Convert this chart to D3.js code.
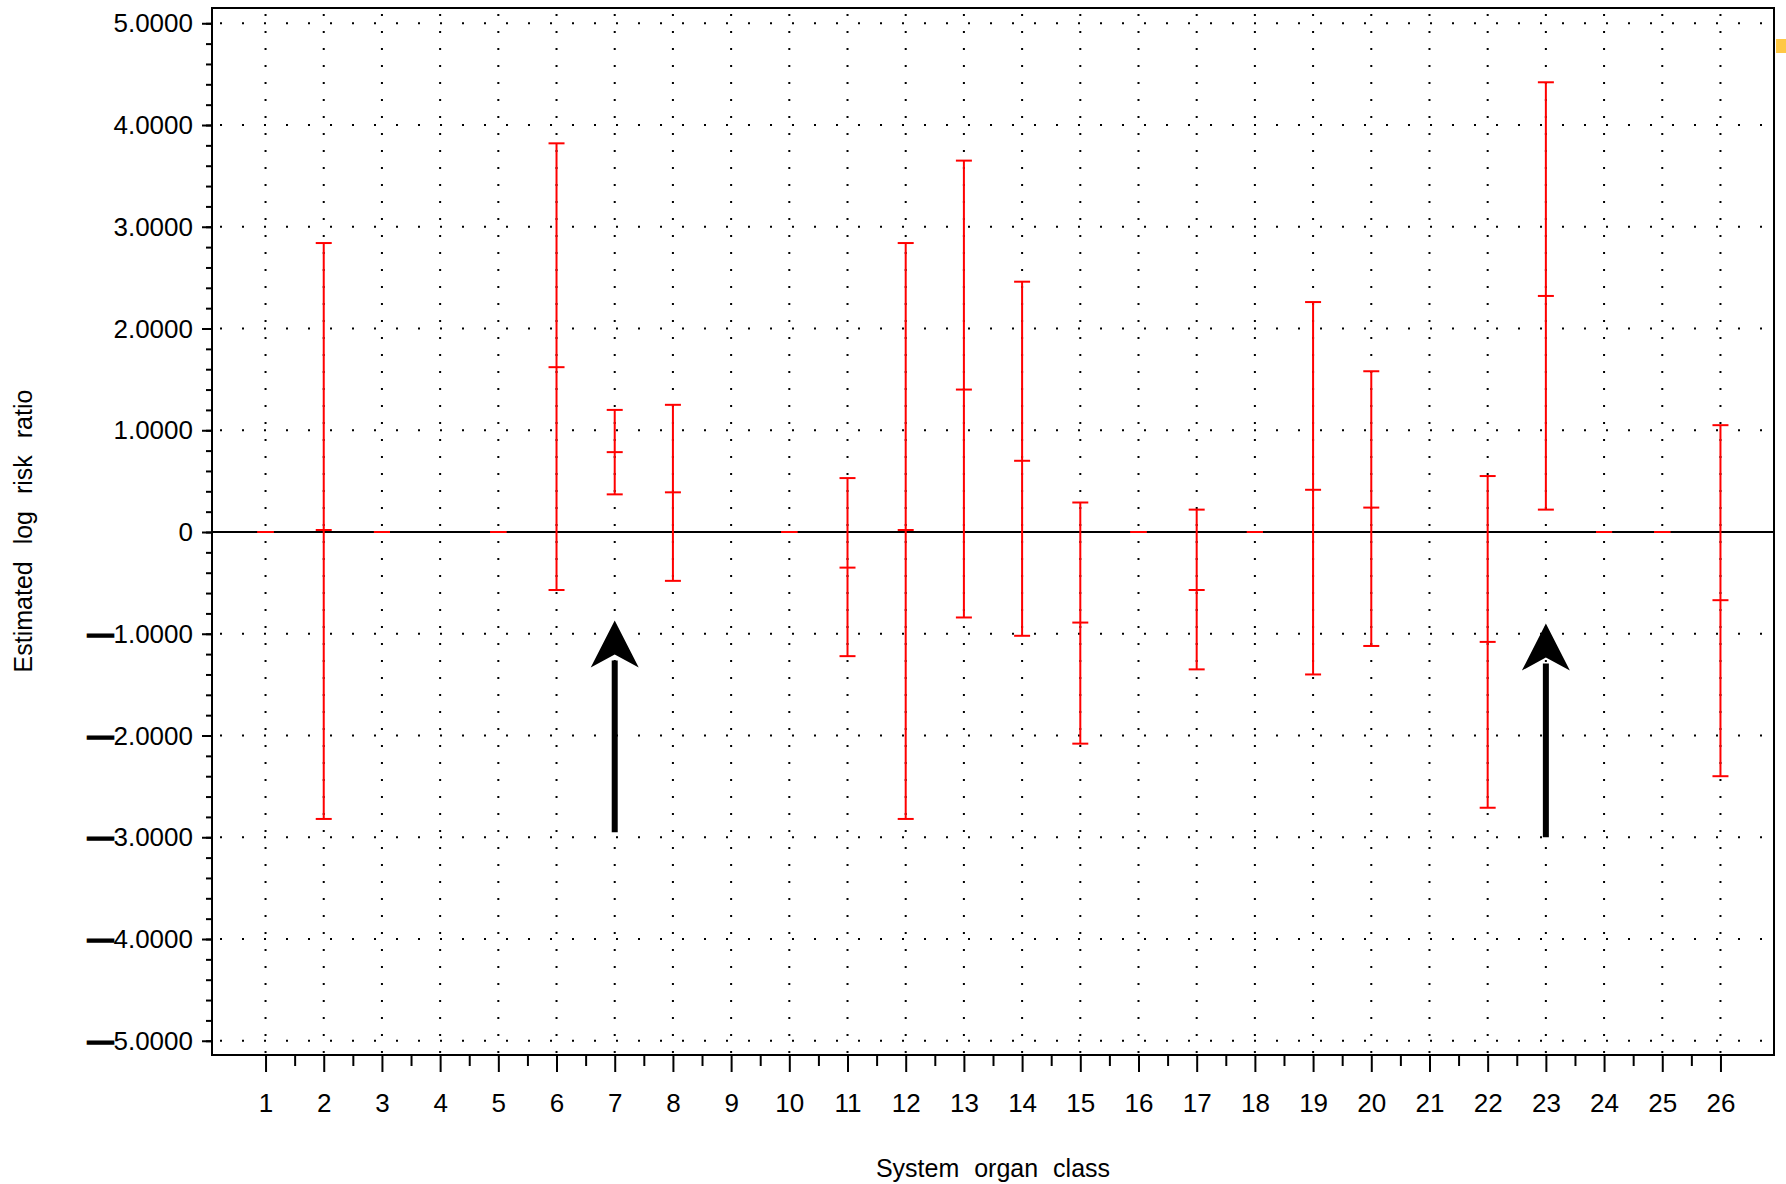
<!DOCTYPE html>
<html>
<head>
<meta charset="utf-8">
<script src="https://d3js.org/d3.v7.min.js"></script>
<style>
  body { margin: 0; background: #fff; }
  svg { display: block; }
  text { font-family: "Liberation Sans", Arial, sans-serif; fill: #000; }
</style>
</head>
<body>
<div id="chart"></div>
<script>
// system organ classes 1..26
const categories = d3.range(1, 27);
// estimated log risk ratio with lower / upper limits (null = no estimate)
const estimates = [0, 0.02, 0, null, 0, 1.62, 0.785, 0.39, null, 0, -0.35, 0.02, 1.40, 0.70, -0.89, 0, -0.57, 0, 0.415, 0.24, null, -1.08, 2.32, 0, 0, -0.67];
const lowerLimits = [0, -2.82, 0, null, 0, -0.57, 0.37, -0.48, null, 0, -1.22, -2.82, -0.84, -1.02, -2.08, 0, -1.35, 0, -1.40, -1.12, null, -2.71, 0.22, 0, 0, -2.40];
const upperLimits = [0, 2.84, 0, null, 0, 3.82, 1.20, 1.25, null, 0, 0.53, 2.84, 3.65, 2.46, 0.29, 0, 0.22, 0, 2.26, 1.58, null, 0.55, 4.42, 0, 0, 1.05];
const yTicks = d3.range(-5, 6);
// annotation arrows: category, tail value, tip value
const arrowCats = [7, 23];
const arrowTails = [-2.95, -3.0];
const arrowTips = [-0.87, -0.90];

const width = 1786, height = 1184;
const plotLeft = 212, plotRight = 1774, plotTop = 8, plotBottom = 1055;

const svg = d3.select('#chart').append('svg')
    .attr('width', width)
    .attr('height', height);

const x = d3.scaleLinear().domain([0.08, 26.92]).range([plotLeft, plotRight]);
const y = d3.scaleLinear().domain([-5.14, 5.15]).range([plotBottom, plotTop]);

// dotted grid
const grid = svg.append('g').attr('stroke', '#000').attr('stroke-width', 2);
grid.selectAll('.vgrid').data(categories).join('line')
    .attr('x1', d => x(d)).attr('x2', d => x(d))
    .attr('y1', plotTop + 6).attr('y2', plotBottom)
    .attr('stroke-dasharray', '2 15');
grid.selectAll('.hgrid').data(yTicks).join('line')
    .attr('x1', plotLeft + 8).attr('x2', plotRight)
    .attr('y1', d => y(d)).attr('y2', d => y(d))
    .attr('stroke-dasharray', '2 20');

// frame
svg.append('rect')
    .attr('x', plotLeft).attr('y', plotTop)
    .attr('width', plotRight - plotLeft).attr('height', plotBottom - plotTop)
    .attr('fill', 'none').attr('stroke', '#000').attr('stroke-width', 2);

// zero reference line
svg.append('line')
    .attr('x1', plotLeft).attr('x2', plotRight)
    .attr('y1', y(0)).attr('y2', y(0))
    .attr('stroke', '#000').attr('stroke-width', 2);

// y axis
const fmt = d3.format('.4f');
const yAxis = svg.append('g')
    .attr('transform', 'translate(' + plotLeft + ',0)')
    .call(d3.axisLeft(y).tickValues(d3.range(-5, 5.01, 0.2)).tickSize(6).tickFormat(''));
yAxis.append('g')
    .call(d3.axisLeft(y).tickValues(yTicks).tickSize(10).tickFormat(''));
yAxis.selectAll('.tick line').attr('stroke-width', 2);
yAxis.selectAll('.domain').remove();

const yLabels = svg.append('g');
yTicks.forEach(v => {
  const t = yLabels.append('text')
      .attr('x', plotLeft - 19)
      .attr('y', y(v))
      .attr('dy', '0.35em')
      .attr('text-anchor', 'end')
      .attr('font-size', 26);
  if (v < 0) {
    t.append('tspan').attr('font-weight', 'bold')
        .attr('stroke', '#000').attr('stroke-width', 1.6).text('\u2014');
    t.append('tspan').text(fmt(-v));
  } else {
    t.text(v === 0 ? '0' : fmt(v));
  }
});

// x axis
const xAxis = svg.append('g')
    .attr('transform', 'translate(0,' + plotBottom + ')')
    .call(d3.axisBottom(x).tickValues(d3.range(1.5, 26, 1)).tickSize(11).tickFormat(''));
xAxis.append('g')
    .call(d3.axisBottom(x).tickValues(categories).tickSize(17).tickPadding(22).tickFormat(d3.format('d')));
xAxis.selectAll('.tick line').attr('stroke-width', 2);
xAxis.selectAll('.domain').remove();
xAxis.selectAll('text')
    .attr('font-size', 26)
    .attr('font-family', '"Liberation Sans", Arial, sans-serif')
    .attr('fill', '#000');

// error bars
const rows = categories.map((c, i) => ({ c, est: estimates[i], lo: lowerLimits[i], hi: upperLimits[i] }))
    .filter(d => d.est !== null);
const capW = 8;
const bars = svg.append('g').attr('stroke', '#ff0000').attr('stroke-width', 2);
const bar = bars.selectAll('g').data(rows).join('g');
bar.append('line')
    .attr('x1', d => x(d.c)).attr('x2', d => x(d.c))
    .attr('y1', d => y(d.lo)).attr('y2', d => y(d.hi));
['lo', 'est', 'hi'].forEach(k => {
  bar.append('line')
      .attr('x1', d => x(d.c) - capW).attr('x2', d => x(d.c) + capW)
      .attr('y1', d => y(d[k])).attr('y2', d => y(d[k]));
});

// arrows
const arrows = svg.append('g').attr('fill', '#000');
arrowCats.forEach((c, i) => {
  const ax = x(c), tip = y(arrowTips[i]), tail = y(arrowTails[i]);
  arrows.append('line')
      .attr('x1', ax).attr('x2', ax)
      .attr('y1', tail).attr('y2', tip + 40)
      .attr('stroke', '#000').attr('stroke-width', 6);
  arrows.append('path')
      .attr('d', 'M' + ax + ',' + tip + 'L' + (ax + 24) + ',' + (tip + 47) +
          'L' + ax + ',' + (tip + 34) + 'L' + (ax - 24) + ',' + (tip + 47) + 'Z');
});

// small marker at the right edge
svg.append('rect')
    .attr('x', plotRight + 2).attr('y', 39)
    .attr('width', 12).attr('height', 14)
    .attr('fill', '#ffc845');

// axis titles
svg.append('text')
    .attr('x', (plotLeft + plotRight) / 2)
    .attr('y', 1177)
    .attr('text-anchor', 'middle')
    .attr('font-size', 25)
    .attr('word-spacing', 8)
    .text('System organ class');

svg.append('text')
    .attr('transform', 'translate(32,' + 531 + ') rotate(-90)')
    .attr('text-anchor', 'middle')
    .attr('font-size', 25)
    .attr('word-spacing', 10)
    .text('Estimated log risk ratio');
</script>
</body>
</html>
